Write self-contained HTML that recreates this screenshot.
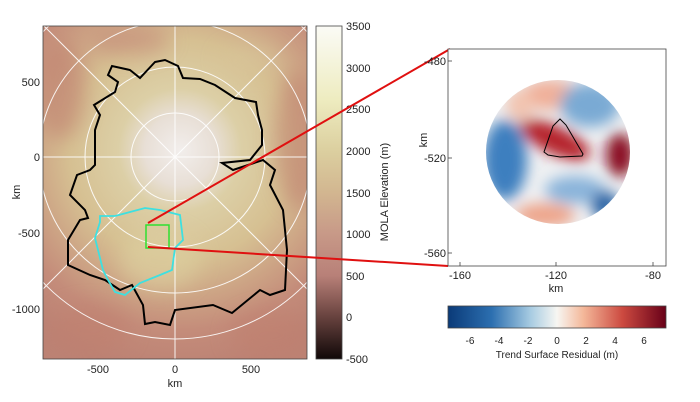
<!DOCTYPE html>
<html><head><meta charset="utf-8"><style>
body{margin:0;background:#fff;}
svg{display:block;font-family:"Liberation Sans",sans-serif;}
</style></head><body>
<svg width="700" height="402" viewBox="0 0 700 402" xmlns="http://www.w3.org/2000/svg">
<defs>
<radialGradient id="mapg" cx="180" cy="150" r="220" gradientUnits="userSpaceOnUse">
<stop offset="0" stop-color="#f2eeec"/>
<stop offset="0.16" stop-color="#e8dfd6"/>
<stop offset="0.28" stop-color="#dccfa6"/>
<stop offset="0.5" stop-color="#d6c092"/>
<stop offset="0.68" stop-color="#cca284"/>
<stop offset="0.82" stop-color="#c48c7a"/>
<stop offset="1" stop-color="#bc8274"/>
</radialGradient>
<linearGradient id="mola" x1="0" y1="0" x2="0" y2="1">
<stop offset="0" stop-color="#fbfbf6"/>
<stop offset="0.22" stop-color="#eeecc0"/>
<stop offset="0.37" stop-color="#dcd0a0"/>
<stop offset="0.5" stop-color="#d2b690"/>
<stop offset="0.62" stop-color="#c89a88"/>
<stop offset="0.75" stop-color="#b88078"/>
<stop offset="0.87" stop-color="#6a4440"/>
<stop offset="1" stop-color="#100808"/>
</linearGradient>
<linearGradient id="rb" x1="0" y1="0" x2="1" y2="0">
<stop offset="0" stop-color="#0a3a78"/>
<stop offset="0.2" stop-color="#2c6fb0"/>
<stop offset="0.38" stop-color="#a8cce2"/>
<stop offset="0.5" stop-color="#f7f6f2"/>
<stop offset="0.62" stop-color="#f4b89a"/>
<stop offset="0.8" stop-color="#cc4a40"/>
<stop offset="1" stop-color="#680018"/>
</linearGradient>
<clipPath id="cc"><circle cx="558" cy="152" r="72"/></clipPath>
<clipPath id="mc"><rect x="43" y="26" width="264" height="333"/></clipPath>
<filter id="bl"><feGaussianBlur stdDeviation="7"/></filter>
<filter id="bl2"><feGaussianBlur stdDeviation="10"/></filter>
</defs>
<!-- map -->
<rect x="43" y="26" width="264" height="333" fill="url(#mapg)"/>
<g clip-path="url(#mc)" filter="url(#bl2)" opacity="0.6">
<ellipse cx="60" cy="90" rx="25" ry="50" fill="#c08070"/>
<ellipse cx="300" cy="140" rx="25" ry="70" fill="#c08070"/>
<ellipse cx="130" cy="40" rx="40" ry="15" fill="#c48878"/>
<ellipse cx="250" cy="60" rx="30" ry="15" fill="#d8c49a"/>
<ellipse cx="90" cy="330" rx="40" ry="25" fill="#c08070"/>
<ellipse cx="270" cy="335" rx="40" ry="25" fill="#c08070"/>
<ellipse cx="160" cy="260" rx="40" ry="30" fill="#ddd0a0"/>
</g>
<g stroke="#fff" stroke-width="1" fill="none" opacity="0.9">
<circle cx="175" cy="157" r="44"/><circle cx="175" cy="157" r="90"/>
<circle cx="175" cy="157" r="136"/><circle cx="175" cy="157" r="182"/>
<line x1="175" y1="26" x2="175" y2="359"/><line x1="43" y1="157" x2="307" y2="157"/>
<line x1="43" y1="25" x2="307" y2="289"/><line x1="307" y1="25" x2="43" y2="289"/>
</g>
<rect x="43" y="26" width="264" height="333" fill="none" stroke="#444" stroke-width="0.8"/>
<polygon fill="none" stroke="#000" stroke-width="2" points="155,62 165,60 178,66 183,78 200,79 215,85 235,98 256,102 258,115 262,130 262,145 250,160 222,163 233,170 263,160 275,170 270,185 283,210 287,250 285,290 270,295 260,290 232,313 213,305 175,310 170,325 155,322 145,324 143,305 132,285 120,290 105,280 90,275 68,265 68,240 80,220 88,218 85,210 70,195 77,175 90,170 95,165 95,145 95,130 100,115 94,105 115,92 118,82 108,75 112,66 130,70 140,78"/>
<polygon fill="none" stroke="#3ee0e0" stroke-width="1.8" points="100,216 115,216 130,212 145,208 160,210 180,215 183,240 175,248 172,270 160,275 140,283 125,295 115,292 108,280 103,270 95,238 100,222"/>
<rect x="146" y="225" width="23" height="23" fill="none" stroke="#30e030" stroke-width="1.5"/>
<g font-size="11" fill="#222">
<text x="40" y="86" text-anchor="end">500</text>
<text x="40" y="161" text-anchor="end">0</text>
<text x="40" y="237" text-anchor="end">-500</text>
<text x="40" y="313" text-anchor="end">-1000</text>
<text x="98" y="373" text-anchor="middle">-500</text>
<text x="175" y="373" text-anchor="middle">0</text>
<text x="251" y="373" text-anchor="middle">500</text>
<text x="175" y="387" text-anchor="middle">km</text>
<text transform="translate(20,192) rotate(-90)" text-anchor="middle">km</text>
</g>
<!-- mola colorbar -->
<rect x="316" y="26" width="26" height="333" fill="url(#mola)" stroke="#444" stroke-width="0.8"/>
<g font-size="11" fill="#222">
<text x="346" y="30">3500</text><text x="346" y="72">3000</text><text x="346" y="113">2500</text>
<text x="346" y="155">2000</text><text x="346" y="197">1500</text><text x="346" y="238">1000</text>
<text x="346" y="280">500</text><text x="346" y="321">0</text><text x="346" y="363">-500</text>
<text transform="translate(388,192) rotate(-90)" text-anchor="middle">MOLA Elevation (m)</text>
</g>
<line x1="148" y1="223" x2="450" y2="49" stroke="#e01010" stroke-width="2"/>
<line x1="148" y1="247" x2="448" y2="266" stroke="#e01010" stroke-width="2"/>
<!-- residual plot -->
<rect x="448" y="49" width="218" height="217" fill="#fff" stroke="#444" stroke-width="0.8"/>
<g clip-path="url(#cc)">
<rect x="480" y="75" width="160" height="160" fill="#eef0f2"/>
<g filter="url(#bl)">
<ellipse cx="505" cy="160" rx="22" ry="40" fill="#3d7fbf"/>
<ellipse cx="550" cy="95" rx="30" ry="15" fill="#f0b09a"/>
<ellipse cx="590" cy="105" rx="30" ry="22" fill="#7aaad4"/>
<ellipse cx="555" cy="140" rx="38" ry="14" fill="#b5202a" transform="rotate(25 555 140)"/>
<ellipse cx="620" cy="155" rx="14" ry="22" fill="#8a0a20"/>
<ellipse cx="575" cy="190" rx="30" ry="14" fill="#8ab4da"/>
<ellipse cx="545" cy="215" rx="30" ry="12" fill="#eea48a"/>
<ellipse cx="605" cy="205" rx="14" ry="14" fill="#2a65a5"/>
<ellipse cx="520" cy="105" rx="14" ry="16" fill="#f2c4b0"/>
</g>
</g>
<polygon fill="none" stroke="#000" stroke-width="1" points="560,119 566,125 583,154 582,156 560,157 548,155 544,152 553,126"/>
<g stroke="#444" stroke-width="0.8">
<line x1="448" y1="61" x2="452" y2="61"/><line x1="448" y1="158" x2="452" y2="158"/><line x1="448" y1="253" x2="452" y2="253"/>
<line x1="460" y1="266" x2="460" y2="262"/><line x1="556" y1="266" x2="556" y2="262"/><line x1="653" y1="266" x2="653" y2="262"/>
</g>
<g font-size="11" fill="#222">
<text x="446" y="65" text-anchor="end">-480</text>
<text x="446" y="162" text-anchor="end">-520</text>
<text x="446" y="257" text-anchor="end">-560</text>
<text x="460" y="279" text-anchor="middle">-160</text>
<text x="556" y="279" text-anchor="middle">-120</text>
<text x="653" y="279" text-anchor="middle">-80</text>
<text x="556" y="292" text-anchor="middle">km</text>
<text transform="translate(427,140) rotate(-90)" text-anchor="middle">km</text>
</g>
<rect x="448" y="306" width="218" height="22" fill="url(#rb)" stroke="#444" stroke-width="0.8"/>
<g font-size="10" fill="#222" text-anchor="middle">
<text x="470" y="344">-6</text><text x="499" y="344">-4</text><text x="528" y="344">-2</text>
<text x="557" y="344">0</text><text x="586" y="344">2</text><text x="615" y="344">4</text><text x="644" y="344">6</text>
<text x="557" y="358">Trend Surface Residual (m)</text>
</g>
</svg>
</body></html>
